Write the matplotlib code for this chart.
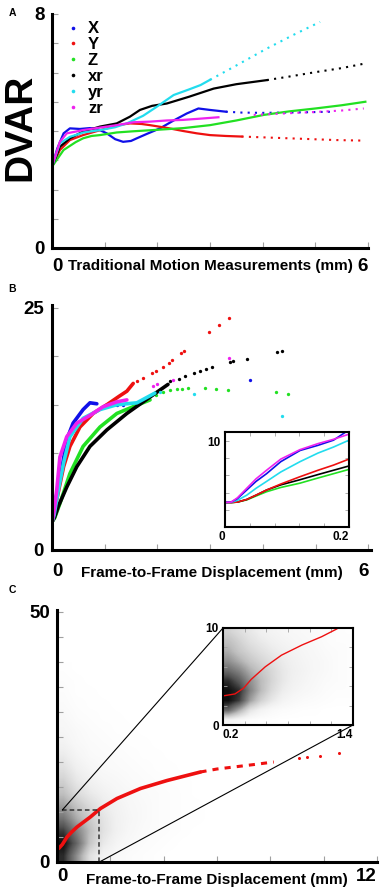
import matplotlib
matplotlib.use("Agg")
import numpy as np
import matplotlib.pyplot as plt
from matplotlib.lines import Line2D
from matplotlib.patches import ConnectionPatch

plt.rcParams['font.family'] = ['Liberation Sans', 'DejaVu Sans']
plt.rcParams['font.weight'] = 'bold'
plt.rcParams['axes.labelweight'] = 'bold'

# couleurs des séries
col = {'X': '#1010e8', 'Y': '#ee1010', 'Z': '#22e022',
       'xr': '#000000', 'yr': '#22dcee', 'zr': '#ee22ee'}
names = ['X', 'Y', 'Z', 'xr', 'yr', 'zr']
tick_gray = '#a0a0a0'

# ---------------- Panel A : DVAR vs traditional motion ----------------
a_x = {
    'X': [0, 0.1, 0.22, 0.34, 0.53, 0.72, 0.85, 1.04, 1.2, 1.35, 1.5, 1.61, 1.8, 2.05, 2.3, 2.56, 2.78, 3.0, 3.3],
    'Y': [0, 0.15, 0.34, 0.59, 0.8, 1.04, 1.25, 1.48, 1.7, 1.86, 2.2, 2.49, 2.75, 3.0, 3.3, 3.6],
    'Z': [0, 0.22, 0.45, 0.59, 0.75, 0.91, 1.23, 1.54, 1.99, 2.5, 3.0, 3.5, 4.02, 4.5, 5.0, 5.5, 5.95],
    'xr': [0, 0.15, 0.34, 0.59, 0.91, 1.23, 1.48, 1.67, 1.9, 2.18, 2.6, 3.07, 3.5, 4.08],
    'yr': [0, 0.15, 0.34, 0.6, 0.91, 1.2, 1.42, 1.73, 1.99, 2.31, 2.6, 2.82, 3.0],
    'zr': [0, 0.15, 0.28, 0.59, 0.92, 1.23, 1.55, 1.86, 2.18, 2.49, 2.8, 3.16],
}
a_y = {
    'X': [2.78, 3.4, 3.92, 4.09, 4.07, 4.1, 4.08, 3.92, 3.72, 3.63, 3.66, 3.75, 3.9, 4.09, 4.35, 4.6, 4.77, 4.72, 4.66],
    'Y': [2.78, 3.35, 3.69, 3.86, 3.97, 4.09, 4.2, 4.26, 4.24, 4.2, 4.1, 4.0, 3.92, 3.86, 3.83, 3.81],
    'Z': [2.78, 3.35, 3.62, 3.75, 3.83, 3.86, 3.95, 3.99, 4.04, 4.1, 4.2, 4.36, 4.55, 4.67, 4.77, 4.88, 5.0],
    'xr': [2.78, 3.46, 3.75, 3.98, 4.15, 4.26, 4.49, 4.72, 4.86, 4.94, 5.17, 5.45, 5.6, 5.74],
    'yr': [2.78, 3.58, 3.80, 3.95, 4.03, 4.13, 4.26, 4.52, 4.83, 5.23, 5.42, 5.57, 5.75],
    'zr': [2.78, 3.63, 3.92, 4.03, 4.12, 4.2, 4.3, 4.32, 4.36, 4.38, 4.42, 4.47],
}
# queues pointillées (points épars)
a_tx = {
    'X': [3.3, 3.6, 4.0, 4.4, 4.8, 5.35],
    'Y': [3.6, 4.2, 4.8, 5.4, 5.95],
    'Z': [],
    'xr': [4.08, 4.5, 5.03, 5.5, 5.95],
    'yr': [3.0, 3.45, 4.08, 4.6, 5.09],
    'zr': [3.83, 4.4, 5.0, 5.5, 5.92],
}
a_ty = {
    'X': [4.66, 4.63, 4.62, 4.63, 4.64, 4.66],
    'Y': [3.81, 3.77, 3.73, 3.69, 3.67],
    'Z': [],
    'xr': [5.74, 5.86, 6.02, 6.15, 6.31],
    'yr': [5.75, 6.19, 6.82, 7.3, 7.73],
    'zr': [4.55, 4.6, 4.65, 4.7, 4.77],
}

# ---------------- Panel B : DVAR vs FD ----------------
b_x = {
    'X': [0.0, 0.03, 0.08, 0.15, 0.28, 0.40, 0.59, 0.72, 0.85],
    'Y': [0.0, 0.03, 0.09, 0.22, 0.34, 0.53, 0.78, 1.04, 1.28, 1.42, 1.54],
    'Z': [0.0, 0.05, 0.15, 0.34, 0.59, 0.91, 1.23, 1.54, 1.86],
    'xr': [0.0, 0.05, 0.12, 0.28, 0.47, 0.72, 1.04, 1.42, 1.86, 2.2],
    'yr': [0.0, 0.04, 0.12, 0.22, 0.34, 0.59, 0.91, 1.23, 1.61, 1.95],
    'zr': [0.0, 0.04, 0.09, 0.15, 0.28, 0.47, 0.72, 0.97, 1.23, 1.42],
}
b_y = {
    'X': [2.9, 3.5, 5.5, 7.2, 11.4, 13.1, 14.5, 15.2, 15.1],
    'Y': [2.9, 3.5, 5.2, 8.6, 10.7, 12.7, 14.1, 15.0, 15.9, 16.4, 17.2],
    'Z': [2.9, 3.3, 4.8, 7.9, 10.7, 12.7, 14.1, 14.8, 15.5],
    'xr': [2.9, 3.4, 4.5, 6.5, 8.6, 10.7, 12.4, 14.1, 15.8, 17.1],
    'yr': [2.9, 3.6, 6.2, 9.0, 11.7, 13.6, 14.5, 15.0, 15.2, 16.2],
    'zr': [2.8, 4.0, 6.2, 9.6, 11.7, 13.1, 13.9, 14.8, 15.3, 15.5],
}
b_px = {
    'X': [1.0, 1.1, 1.23, 1.35, 3.76],
    'Y': [1.62, 1.73, 1.89, 1.97, 2.11, 2.21, 2.28, 2.44, 2.51, 2.98, 3.16, 3.35],
    'Z': [1.98, 2.11, 2.24, 2.37, 2.46, 2.58, 2.90, 3.11, 3.33, 4.25, 4.48],
    'xr': [2.24, 2.40, 2.53, 2.69, 2.80, 2.92, 3.04, 3.38, 3.44, 3.69, 4.26, 4.36],
    'yr': [2.05, 2.70, 4.36],
    'zr': [1.92, 1.99, 2.30, 3.36],
}
b_py = {
    'X': [15.0, 15.0, 15.0, 15.0, 17.6],
    'Y': [17.5, 17.8, 18.25, 18.5, 18.9, 19.3, 19.6, 20.3, 20.6, 22.5, 23.2, 24.0],
    'Z': [16.0, 16.3, 16.5, 16.6, 16.6, 16.7, 16.7, 16.6, 16.5, 16.3, 16.1],
    'xr': [17.5, 17.7, 18.0, 18.3, 18.5, 18.7, 18.9, 19.4, 19.5, 19.7, 20.4, 20.5],
    'yr': [16.3, 16.1, 13.8],
    'zr': [16.9, 17.1, 17.6, 19.8],
}
# encart B (FD 0 - 0.2)
bi_x = [0, 0.01, 0.02, 0.035, 0.05, 0.067, 0.09, 0.121, 0.15, 0.175, 0.2]
bi_y = {
    'X': [2.85, 2.9, 3.3, 4.3, 5.3, 6.2, 7.6, 8.9, 9.5, 10.1, 11.3],
    'zr': [2.85, 2.9, 3.4, 4.5, 5.6, 6.6, 7.9, 9.0, 9.7, 10.2, 10.8],
    'yr': [2.85, 2.88, 3.1, 3.7, 4.5, 5.3, 6.4, 7.6, 8.6, 9.3, 10.1],
    'Y': [2.85, 2.85, 2.9, 3.2, 3.7, 4.3, 5.0, 5.85, 6.6, 7.2, 7.9],
    'xr': [2.85, 2.85, 2.9, 3.2, 3.7, 4.3, 4.9, 5.5, 6.1, 6.6, 7.1],
    'Z': [2.85, 2.85, 2.9, 3.15, 3.6, 4.1, 4.6, 5.1, 5.7, 6.2, 6.7],
}

# ---------------- Panel C : all frames ----------------
# densité du nuage de points (0 = blanc, 1 = noir), cellules 0.5 mm x 2.5
c_dens = [
    [0.90, 0.55, 0.22, 0.10, 0.05, 0.03, 0.02, 0.01, 0.00, 0.00, 0.00, 0.00],
    [1.00, 0.70, 0.35, 0.17, 0.09, 0.05, 0.03, 0.02, 0.01, 0.00, 0.00, 0.00],
    [0.85, 0.60, 0.38, 0.21, 0.12, 0.07, 0.04, 0.03, 0.02, 0.01, 0.00, 0.00],
    [0.65, 0.45, 0.32, 0.20, 0.12, 0.08, 0.05, 0.03, 0.02, 0.01, 0.01, 0.00],
    [0.50, 0.36, 0.25, 0.16, 0.11, 0.07, 0.05, 0.03, 0.02, 0.01, 0.01, 0.00],
    [0.38, 0.25, 0.17, 0.12, 0.08, 0.06, 0.04, 0.03, 0.02, 0.01, 0.00, 0.00],
    [0.30, 0.18, 0.12, 0.08, 0.06, 0.04, 0.03, 0.02, 0.01, 0.01, 0.00, 0.00],
    [0.22, 0.13, 0.08, 0.05, 0.04, 0.03, 0.02, 0.01, 0.01, 0.00, 0.00, 0.00],
    [0.16, 0.09, 0.05, 0.04, 0.03, 0.02, 0.01, 0.01, 0.00, 0.00, 0.00, 0.00],
    [0.11, 0.06, 0.04, 0.03, 0.02, 0.01, 0.01, 0.00, 0.00, 0.00, 0.00, 0.00],
    [0.08, 0.05, 0.03, 0.02, 0.01, 0.01, 0.00, 0.00, 0.00, 0.00, 0.00, 0.00],
    [0.06, 0.03, 0.02, 0.01, 0.01, 0.00, 0.00, 0.00, 0.00, 0.00, 0.00, 0.00],
    [0.04, 0.02, 0.01, 0.01, 0.00, 0.00, 0.00, 0.00, 0.00, 0.00, 0.00, 0.00],
    [0.03, 0.01, 0.01, 0.00, 0.00, 0.00, 0.00, 0.00, 0.00, 0.00, 0.00, 0.00],
    [0.02, 0.01, 0.00, 0.00, 0.00, 0.00, 0.00, 0.00, 0.00, 0.00, 0.00, 0.00],
    [0.01, 0.00, 0.00, 0.00, 0.00, 0.00, 0.00, 0.00, 0.00, 0.00, 0.00, 0.00],
]
c_dens_ext = [0, 6, 0, 40]
c_x = [0.06, 0.2, 0.375, 0.55, 0.75, 1.0, 1.25, 1.63, 2.25, 3.13, 4.13, 5.38]
c_y = [2.7, 3.5, 5.0, 6.0, 7.0, 8.0, 9.0, 10.7, 12.7, 14.7, 16.3, 18.0]
c_tx = [5.38, 6.0, 6.63, 7.4, 8.13]
c_ty = [18.0, 18.6, 19.0, 19.5, 20.0]
c_px = [9.06, 9.38, 9.88, 10.56]
c_py = [20.8, 21.0, 21.3, 21.9]
# encart C (0.2 - 1.4 mm), cellules 0.1 mm x 1
ci_dens = [
    [0.10, 0.05, 0.02, 0.01, 0.01, 0.00, 0.00, 0.00, 0.00, 0.00, 0.00, 0.00],
    [0.70, 0.45, 0.20, 0.10, 0.05, 0.03, 0.02, 0.01, 0.01, 0.00, 0.00, 0.00],
    [1.00, 0.85, 0.50, 0.30, 0.18, 0.10, 0.06, 0.04, 0.03, 0.02, 0.01, 0.01],
    [1.00, 0.90, 0.60, 0.40, 0.25, 0.15, 0.10, 0.07, 0.05, 0.03, 0.02, 0.02],
    [0.90, 0.75, 0.55, 0.40, 0.28, 0.18, 0.12, 0.09, 0.06, 0.04, 0.03, 0.02],
    [0.70, 0.60, 0.45, 0.35, 0.27, 0.18, 0.13, 0.10, 0.07, 0.05, 0.03, 0.02],
    [0.55, 0.45, 0.35, 0.28, 0.22, 0.16, 0.12, 0.09, 0.07, 0.05, 0.03, 0.02],
    [0.45, 0.35, 0.28, 0.22, 0.17, 0.13, 0.10, 0.08, 0.06, 0.04, 0.03, 0.02],
    [0.38, 0.30, 0.22, 0.17, 0.13, 0.10, 0.08, 0.06, 0.05, 0.03, 0.02, 0.02],
    [0.30, 0.24, 0.18, 0.13, 0.10, 0.08, 0.06, 0.05, 0.04, 0.03, 0.02, 0.01],
]
ci_dens_ext = [0.2, 1.4, 0, 10]
ci_x = [0.2, 0.31, 0.39, 0.46, 0.59, 0.74, 0.93, 1.11, 1.25]
ci_y = [3.0, 3.2, 3.8, 4.7, 6.0, 7.2, 8.25, 9.1, 9.9]
zoom_x = [0.2, 1.59]   # rectangle pointillé
zoom_y = [0, 10.4]


W, H = 388, 893
fig = plt.figure(figsize=(W/100, H/100), dpi=100)

def box(l, t, r, b):
    return [l/W, 1-b/H, (r-l)/W, (b-t)/H]

def style_main(ax, xt, xlab, yt, ylab, fs=13.5, padx=6, pady=5):
    for s in ['top', 'right']:
        ax.spines[s].set_visible(False)
    for s in ['left', 'bottom']:
        ax.spines[s].set_linewidth(2.2)
    ax.set_xticks(xt)
    ax.set_xticklabels(xlab)
    ax.set_yticks(yt)
    ax.set_yticklabels(ylab)
    ax.tick_params(direction='in', length=4, width=0.8, color=tick_gray,
                   labelsize=fs, labelcolor='k')
    ax.tick_params(axis='x', pad=padx)
    ax.tick_params(axis='y', pad=pady)
    lb = ax.get_xticklabels()
    lb[0].set_ha('left')
    lb[-1].set_ha('right')

def style_inset(ax, xt, xlab, yt, ylab, fs=8.5):
    for s in ax.spines.values():
        s.set_linewidth(1.5)
    ax.set_xticks(xt)
    ax.set_xticklabels(xlab)
    ax.set_yticks(yt)
    ax.set_yticklabels(ylab)
    ax.tick_params(direction='in', length=3, width=0.6, color=tick_gray,
                   labelsize=fs, labelcolor='k', top=True, right=True, pad=3)

# ---- A ----
axa = fig.add_axes(box(52, 14, 368, 248))
for n in names:
    axa.plot(a_x[n], a_y[n], color=col[n], lw=1.6)
    if a_tx[n]:
        axa.plot(a_tx[n], a_ty[n], color=col[n], lw=1.5, ls=(0, (1, 2.5)))
axa.set_xlim(0, 6)
axa.set_ylim(0, 8)
style_main(axa, range(7), ['0', '', '', '', '', '', '6'],
           range(9), ['0', '', '', '', '', '', '', '', '8'], padx=7, pady=5)
axa.set_xlabel('Traditional Motion Measurements (mm)', fontsize=11,
               fontweight='bold', va='center')
axa.xaxis.set_label_coords(0.5, -0.077)
axa.set_ylabel('DVAR', fontsize=28, fontweight='bold', va='center')
axa.yaxis.set_label_coords(-0.101, 0.517)
handles = [Line2D([], [], ls='none', marker='o', ms=2.6, color=col[n], mec='none') for n in names]
axa.legend(handles, names, loc='upper left', bbox_to_anchor=(0.045, 0.968),
           frameon=False, handlelength=0.8, handletextpad=0.5,
           labelspacing=0.05, borderpad=0, borderaxespad=0,
           prop={'weight': 'bold', 'size': 12})
fig.text(12/W, 1-13/H, 'A', fontsize=7.5, fontweight='bold', ha='center', va='center')

# ---- B ----
axb = fig.add_axes(box(52, 305, 371, 550))
for n in names:
    axb.plot(b_x[n], b_y[n], color=col[n], lw=2.6, solid_capstyle='round')
    axb.plot(b_px[n], b_py[n], ls='none', marker='o', ms=2.4, color=col[n], mec='none')
axb.set_xlim(0, 6.05)
axb.set_ylim(0, 25.3)
style_main(axb, range(7), ['0', '', '', '', '', '', '6'],
           [0, 5, 10, 15, 20, 25], ['0', '', '', '', '', '25'], padx=9, pady=6)
axb.set_xlabel('Frame-to-Frame Displacement (mm)', fontsize=11,
               fontweight='bold', va='center')
axb.xaxis.set_label_coords(0.5, -0.094)
fig.text(12/W, 1-289/H, 'B', fontsize=7.5, fontweight='bold', ha='center', va='center')

axbi = fig.add_axes(box(225, 432, 349, 527))
for n in ['Z', 'xr', 'Y', 'yr', 'X', 'zr']:
    axbi.plot(bi_x, bi_y[n], color=col[n], lw=1.2)
axbi.set_xlim(0, 0.2)
axbi.set_ylim(0, 11.05)
style_inset(axbi, [0, 0.04, 0.08, 0.12, 0.16, 0.2], ['0', '', '', '', '', '0.2'],
            [0, 2, 4, 6, 8, 10], ['', '', '', '', '', '10'])
for t in axbi.get_xticklabels():
    t.set_ha('right')

# ---- C ----
axc = fig.add_axes(box(57, 610, 377, 862))
axc.imshow(np.array(c_dens), extent=c_dens_ext, origin='lower', cmap='Greys',
           vmin=0, vmax=1.05, aspect='auto', interpolation='bilinear', zorder=0)
axc.plot(c_x, c_y, color='#ee1010', lw=2.6, solid_capstyle='round')
axc.plot(c_tx, c_ty, color='#ee1010', lw=2.2, ls=(0, (2, 2)))
axc.plot(c_px, c_py, ls='none', marker='o', ms=2.2, color='#ee1010', mec='none')
axc.plot(zoom_x, [zoom_y[1]] * 2, color='#333333', lw=1.1, ls=(0, (3, 2)))
axc.plot([zoom_x[1]] * 2, zoom_y, color='#333333', lw=1.1, ls=(0, (3, 2)))
axc.set_xlim(0, 12)
axc.set_ylim(0, 50.4)
style_main(axc, range(0, 13, 2), ['0', '', '', '', '', '', '12'],
           range(0, 51, 5), ['0'] + [''] * 9 + ['50'], padx=4, pady=5)
axc.set_xlabel('Frame-to-Frame Displacement (mm)', fontsize=11,
               fontweight='bold', va='center')
axc.xaxis.set_label_coords(0.5, -0.071)
fig.text(12/W, 1-590/H, 'C', fontsize=7.5, fontweight='bold', ha='center', va='center')

axci = fig.add_axes(box(223, 628, 353, 725))
axci.imshow(np.array(ci_dens), extent=ci_dens_ext, origin='lower', cmap='Greys',
            vmin=0, vmax=1.05, aspect='auto', interpolation='bilinear', zorder=0)
axci.plot(ci_x, ci_y, color='#ee1010', lw=1.0)
axci.set_xlim(0.2, 1.4)
axci.set_ylim(0, 10)
style_inset(axci, [0.2, 0.4, 0.6, 0.8, 1.0, 1.2, 1.4], ['0.2', '', '', '', '', '', '1.4'],
            [0, 2, 4, 6, 8, 10], ['0', '', '', '', '', '10'])
lb = axci.get_xticklabels()
lb[0].set_ha('left')
lb[-1].set_ha('right')

con1 = ConnectionPatch(xyA=(zoom_x[0], zoom_y[1]), coordsA=axc.transData,
                       xyB=(0, 1), coordsB=axci.transAxes, color='k', lw=0.8)
con2 = ConnectionPatch(xyA=(zoom_x[1], zoom_y[0]), coordsA=axc.transData,
                       xyB=(1, 0), coordsB=axci.transAxes, color='k', lw=0.8)
fig.add_artist(con1)
fig.add_artist(con2)

fig.savefig('out.png', dpi=100)
